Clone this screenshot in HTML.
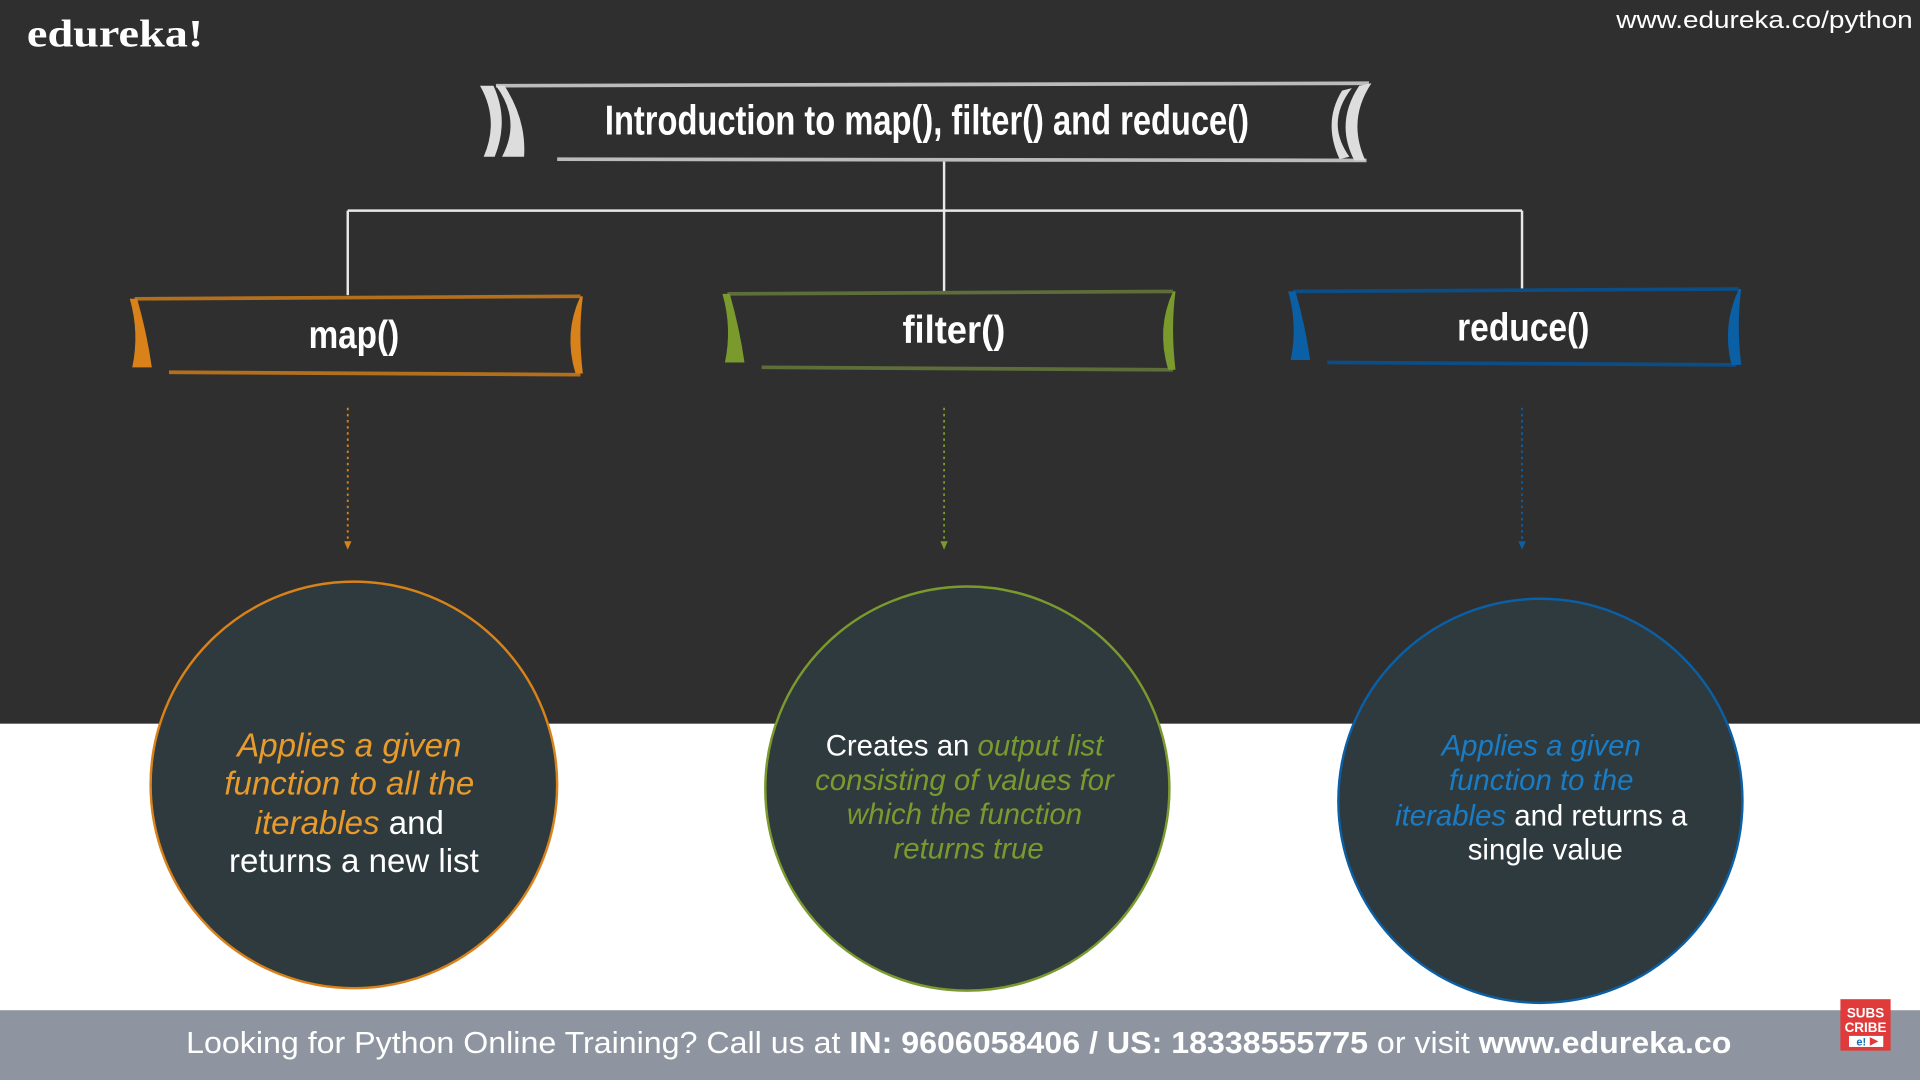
<!DOCTYPE html>
<html><head><meta charset="utf-8"><style>
html,body{margin:0;padding:0;width:1920px;height:1080px;overflow:hidden;background:#2f2f2f}
svg{display:block}
text{font-family:"Liberation Sans",sans-serif}
</style></head><body>
<svg width="1920" height="1080" viewBox="0 0 1568 882" preserveAspectRatio="none">
<rect x="0" y="0" width="1568" height="592" fill="#2f2f2f"/>
<rect x="0" y="591" width="1568" height="235" fill="#ffffff"/>
<rect x="0" y="825" width="1568" height="57" fill="#8e95a0"/>
<text x="22" y="38" font-size="32" font-weight="bold" fill="#fff" textLength="144" lengthAdjust="spacingAndGlyphs" style="font-family:'Liberation Serif',serif">edureka!</text>
<text x="1320" y="23" font-size="20" fill="#fff" textLength="242" lengthAdjust="spacingAndGlyphs">www.edureka.co/python</text>

<g>
<path d="M405 70 L1118 68 M455 130 L1116 131" stroke="#bbb" stroke-width="3" fill="none"/>
<path d="M392 70 Q408 98 395 128 L404 128 Q416 98 403 70Z M405 70 Q426 98 410 128 L428 128 Q430 98 412 70Z" fill="#ddd"/>
<path d="M1120 68 Q1100 98 1115 131 L1106 131 Q1090 100 1110 70Z M1104 72 Q1082 100 1102 128 L1094 130 Q1080 100 1096 74Z" fill="#ddd"/>
<text x="757" y="110" font-size="34" font-weight="bold" fill="#fff" text-anchor="middle" textLength="526" lengthAdjust="spacingAndGlyphs">Introduction to map(), filter() and reduce()</text>
</g>

<g stroke="#e8e8e8" stroke-width="2" fill="none">
<path d="M771 132 V238 M284 172 H1243 M284 172 V241 M1243 172 V236"/>
</g>

<g>
<path d="M110 244 L474 242 M138 304 L474 306" stroke="#b46f1c" stroke-width="3" fill="none"/>
<path d="M106 244 Q114 272 108 300 L124 300 Q120 272 112 244Z" fill="#d9821a"/>
<path d="M474 242 Q460 272 470 305 L476 305 Q472 272 476 242Z" fill="#d9821a"/>
<text x="289" y="284" font-size="32" font-weight="bold" fill="#fff" text-anchor="middle" textLength="74" lengthAdjust="spacingAndGlyphs">map()</text>
</g>
<g>
<path d="M594 240 L958 238 M622 300 L958 302" stroke="#5e6e3a" stroke-width="3" fill="none"/>
<path d="M590 240 Q598 268 592 296 L608 296 Q604 268 596 240Z" fill="#7a9a2e"/>
<path d="M958 238 Q944 268 954 302 L960 302 Q956 268 960 238Z" fill="#7a9a2e"/>
<text x="779" y="280" font-size="32" font-weight="bold" fill="#fff" text-anchor="middle" textLength="84" lengthAdjust="spacingAndGlyphs">filter()</text>
</g>
<g>
<path d="M1056 238 L1420 236 M1084 296 L1418 298" stroke="#0c4d85" stroke-width="3" fill="none"/>
<path d="M1052 238 Q1060 266 1054 294 L1070 294 Q1066 266 1058 238Z" fill="#0b5fa5"/>
<path d="M1420 236 Q1406 266 1414 298 L1422 298 Q1418 266 1422 236Z" fill="#0b5fa5"/>
<text x="1244" y="278" font-size="32" font-weight="bold" fill="#fff" text-anchor="middle" textLength="108" lengthAdjust="spacingAndGlyphs">reduce()</text>
</g>

<g stroke-width="1.5" stroke-dasharray="2 3" fill="none">
<path d="M284 333 V446" stroke="#d9821a"/>
<path d="M771 333 V446" stroke="#7a9a2e"/>
<path d="M1243 333 V446" stroke="#0b5fa5"/>
</g>
<path d="M281 442 L284 449 L287 442Z" fill="#d9821a"/>
<path d="M768 442 L771 449 L774 442Z" fill="#7a9a2e"/>
<path d="M1240 442 L1243 449 L1246 442Z" fill="#0b5fa5"/>

<g>
<circle cx="289" cy="641" r="166" fill="#2e3a3e" stroke="#d9821a" stroke-width="2"/>
<text font-size="27" text-anchor="middle" fill="#fff">
<tspan x="289" y="618" fill="#e89a2a" font-style="italic">Applies a given</tspan>
<tspan x="289" y="649" fill="#e89a2a" font-style="italic">function to all the</tspan>
<tspan x="289" y="681"><tspan fill="#e89a2a" font-style="italic">iterables</tspan> and</tspan>
<tspan x="289" y="712">returns a new list</tspan>
</text>
</g>
<g>
<circle cx="790" cy="644" r="165" fill="#2e3a3e" stroke="#7a9a2e" stroke-width="2"/>
<text font-size="24" text-anchor="middle" fill="#7a9a2e" font-style="italic">
<tspan x="791" y="617"><tspan fill="#fff" font-style="normal">Creates an </tspan>output list</tspan>
<tspan x="791" y="645">consisting of values for</tspan>
<tspan x="791" y="673">which the function</tspan>
<tspan x="791" y="701">returns true</tspan>
</text>
</g>
<g>
<circle cx="1258" cy="654" r="165" fill="#2e3a3e" stroke="#0b5fa5" stroke-width="2"/>
<text font-size="24" text-anchor="middle" fill="#fff">
<tspan x="1262" y="617" fill="#1a7cc4" font-style="italic">Applies a given</tspan>
<tspan x="1262" y="645" fill="#1a7cc4" font-style="italic">function to the</tspan>
<tspan x="1262" y="674"><tspan fill="#1a7cc4" font-style="italic">iterables</tspan> and returns a</tspan>
<tspan x="1262" y="702">single value</tspan>
</text>
</g>

<text x="152" y="860" font-size="25" fill="#fff" textLength="1262" lengthAdjust="spacingAndGlyphs">Looking for Python Online Training? Call us at <tspan font-weight="bold">IN: 9606058406 / US: 18338555775</tspan> or visit <tspan font-weight="bold">www.edureka.co</tspan></text>

<g>
<rect x="1503" y="816" width="41" height="42" fill="#e03a3a"/>
<text x="1523.5" y="831" font-size="11" font-weight="bold" fill="#fff" text-anchor="middle">SUBS</text>
<text x="1523.5" y="843" font-size="11" font-weight="bold" fill="#fff" text-anchor="middle">CRIBE</text>
<rect x="1510" y="846" width="28" height="9" fill="#fff"/>
<text x="1520" y="854" font-size="9" font-weight="bold" fill="#1a6fb0" text-anchor="middle">e!</text>
<path d="M1527 847 L1534 850.5 L1527 854Z" fill="#e03a3a"/>
</g>
</svg>
</body></html>
